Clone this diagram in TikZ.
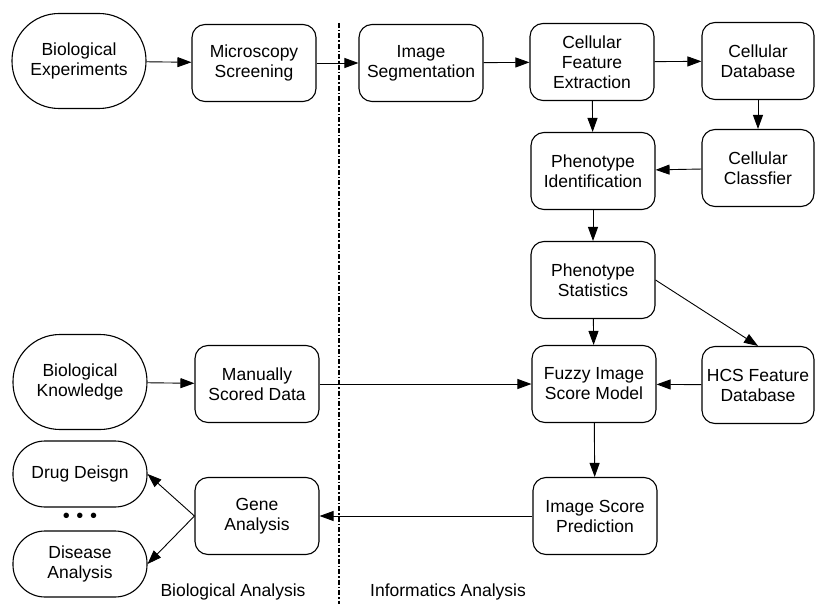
\documentclass[tikz,border=0pt]{standalone}
\usepackage{fontspec}
\setmainfont{Liberation Sans}
\usetikzlibrary{arrows.meta}

\begin{document}
\begin{tikzpicture}[x=1pt,y=-1pt,
            box/.style={draw,line width=1.1pt,rounded corners=13pt,minimum width=124pt,minimum height=77pt,align=center,inner sep=1pt,font=\fontsize{17.5}{20}\selectfont},
            oval/.style={box,minimum width=134pt,minimum height=95pt,rounded corners=47pt},
            smalloval/.style={box,minimum width=134pt,minimum height=66pt,rounded corners=32pt},
            arr/.style={line width=0.9pt,-{Triangle[length=14pt,width=10pt]}},
            divider/.style={line width=1.2pt,dash pattern=on 5pt off 2pt on 1.5pt off 2pt}]
            \useasboundingbox (0,0) rectangle (816,604);
            \node[oval] (bexp) at (79,61) {Biological\\Experiments};
            \node[box] (mscr) at (254,63) {Microscopy\\Screening};
            \node[box] (iseg) at (421,63) {Image\\Segmentation};
            \node[box] (cfe) at (592,62) {Cellular\\Feature\\Extraction};
            \node[box,minimum width=112pt] (cdb) at (758,61) {Cellular\\Database};
            \node[box,minimum width=112pt] (ccl) at (758,168) {Cellular\\Classfier};
            \node[box] (pid) at (593,171) {Phenotype\\Identification};
            \node[box] (pst) at (593,280) {Phenotype\\Statistics};
            \node[box] (fism) at (594,384) {Fuzzy Image\\Score Model};
            \node[box,minimum width=112pt] (hcs) at (758,385) {HCS Feature\\Database};
            \node[box] (isp) at (595,516) {Image Score\\Prediction};
            \node[oval] (bkn) at (80,382) {Biological\\Knowledge};
            \node[box] (msd) at (257,384) {Manually\\Scored Data};
            \node[box] (gene) at (257,516) {Gene\\Analysis};
            \node[smalloval] (drug) at (80,474) {Drug Deisgn};
            \node[font=\fontsize{20}{20}\selectfont] (dots) at (80,518) {\textbullet\,\,\textbullet\,\,\textbullet};
            \node[smalloval] (dis) at (80,564) {Disease\\Analysis};
            \node[font=\fontsize{17.5}{20}\selectfont] (bio) at (233,592) {Biological Analysis};
            \node[font=\fontsize{17.5}{20}\selectfont] (inf) at (448,592) {Informatics Analysis};
            \coordinate (top) at (339,23);
            \coordinate (bot) at (339,604);
            \draw[divider] (top) -- (bot);
            \draw[arr] (bexp) -- (mscr);
            \draw[arr] (mscr) -- (iseg);
            \draw[arr] (iseg) -- (cfe);
            \draw[arr] (cfe) -- (cdb);
            \draw[arr] (cfe) -- (pid);
            \draw[arr] (cdb) -- (ccl);
            \draw[arr] (ccl) -- (pid);
            \draw[arr] (pid) -- (pst);
            \draw[arr] (pst) -- (fism);
            \draw[arr] (pst.east) -- (hcs.north);
            \draw[arr] (hcs) -- (fism);
            \draw[arr] (bkn) -- (msd);
            \draw[arr] (msd) -- (fism);
            \draw[arr] (fism) -- (isp);
            \draw[arr] (isp) -- (gene);
            \draw[arr] (gene.west) -- (drug.east);
            \draw[arr] (gene.west) -- (dis.east);
        \end{tikzpicture}
\end{document}
